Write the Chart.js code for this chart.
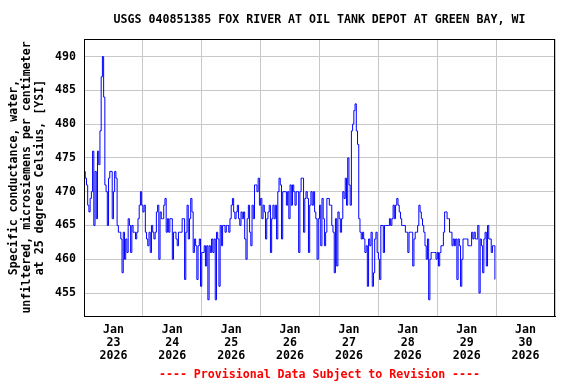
<!DOCTYPE html>
<html><head><meta charset="utf-8">
<script src="https://cdn.jsdelivr.net/npm/chart.js@4/dist/chart.umd.min.js"></script>
<style>html,body{margin:0;padding:0;background:#fff}</style>
</head><body>
<canvas id="c" width="576" height="384"></canvas>
<script>
const titleText = 'USGS 040851385 FOX RIVER AT OIL TANK DEPOT AT GREEN BAY, WI';
const yAxisTitle = ['Specific conductance, water,', 'unfiltered, microsiemens per centimeter', 'at 25 degrees Celsius, [YSI]'];
const footerText = '---- Provisional Data Subject to Revision ----';
const tickMonths = ['Jan','Jan','Jan','Jan','Jan','Jan','Jan','Jan'];
const tickDays = ['23','24','25','26','27','28','29','30'];
const tickYear = '2026';
const yTickValues = [455,460,465,470,475,480,485,490];
const yMin = 451.6, yMax = 492.6;
const sampleStepHours = 0.5;   // readings every 30 minutes from Jan 23 00:00

const jan23 = [473,472,471,468,467,469,470,476,465,473,466,476,474,479,487,490,484,471,470,465,472,473,473,466,
               470,473,472,465,464,464,463,458,464,460,463,461,466,465,461,465,464,464,463,464,466,468,470,468];
const jan24 = [467,468,464,463,462,464,461,465,464,463,464,467,468,460,467,466,466,468,469,464,466,464,466,466,
               460,464,464,463,462,464,464,464,466,466,457,464,468,463,466,469,467,461,463,462,457,462,463,456];
const jan25 = [461,461,462,459,462,454,462,461,463,461,463,454,464,463,456,465,462,465,465,464,465,465,464,466,
               468,469,467,466,467,468,466,465,467,466,467,463,460,466,468,464,462,468,466,471,471,470,472,468];
const jan26 = [469,466,468,467,463,466,467,468,461,466,468,466,468,463,470,472,471,463,470,470,470,468,470,466,
               471,468,471,470,468,470,470,461,470,472,472,464,469,470,469,461,468,470,468,470,467,466,460,466];
const jan27 = [468,462,469,466,462,464,469,469,468,468,465,464,458,466,459,467,466,464,466,470,469,472,468,475,
               471,468,479,480,482,483,479,477,466,464,463,464,463,461,462,456,463,462,464,456,458,463,464,461];
const jan28 = [460,457,465,465,461,465,465,465,465,466,465,466,468,466,468,469,468,467,466,465,465,465,464,464,
               461,464,464,464,459,463,464,464,465,468,467,466,465,464,462,460,463,454,460,461,461,461,461,460];
const jan29 = [461,459,461,462,462,464,467,467,466,466,464,464,462,463,462,463,457,463,462,456,460,463,463,463,
               463,462,462,462,464,463,464,463,463,465,455,463,462,458,463,464,459,465,463,463,461,462,462,457];

const conductance = [].concat(jan23, jan24, jan25, jan26, jan27, jan28, jan29);
const points = conductance.map((v, i) => ({x: i * sampleStepHours, y: v}));

const monoFont = {family: '"DejaVu Sans Mono", "Liberation Mono", monospace', size: 11.6, weight: 'bold', lineHeight: '13px'};

const frame = {
  id: 'frame',
  afterDatasetsDraw(chart) {
    const {ctx, chartArea: a} = chart;
    ctx.save();
    ctx.strokeStyle = '#000';
    ctx.lineWidth = 1;
    ctx.strokeRect(Math.round(a.left) + 0.5, Math.round(a.top) + 0.5,
                   Math.round(a.right - a.left) - 1, Math.round(a.bottom - a.top));
    ctx.restore();
  }
};

new Chart(document.getElementById('c'), {
  type: 'line',
  data: {datasets: [{
    data: points, borderColor: '#0000ff', borderWidth: 1, pointRadius: 0,
    stepped: true, fill: false, tension: 0
  }]},
  plugins: [frame],
  options: {
    responsive: false, animation: false, devicePixelRatio: 1,
    layout: {padding: {left: 0, right: 21, top: 0, bottom: 0}},
    plugins: {
      legend: {display: false},
      tooltip: {enabled: false},
      title: {display: true, text: titleText, fullSize: false, color: '#000', font: monoFont, padding: {top: 13, bottom: 13}},
      subtitle: {display: true, text: footerText, position: 'bottom', fullSize: false, color: '#ff0000', font: monoFont, padding: {top: 4, bottom: 3}}
    },
    scales: {
      x: {
        type: 'linear', min: 0, max: tickDays.length * 24,
        afterBuildTicks(s) {
          const t = [];
          for (let i = 0; i <= tickDays.length; i++) {
            t.push({value: i * 24});
            if (i < tickDays.length) t.push({value: i * 24 + 12});
          }
          s.ticks = t;
        },
        afterFit(s) { s.height = 48; },
        grid: {
          color: c => (c.tick && c.tick.value % 24 === 0) ? '#c8c8c8' : 'rgba(0,0,0,0)',
          lineWidth: 1, drawTicks: false
        },
        border: {display: true, color: '#000', width: 1},
        ticks: {
          autoSkip: false, maxRotation: 0, minRotation: 0, padding: 7, color: '#000', font: monoFont,
          callback: v => {
            if (v % 24 !== 12) return '';
            const i = (v - 12) / 24;
            return [tickMonths[i], tickDays[i], tickYear];
          }
        }
      },
      y: {
        type: 'linear', min: yMin, max: yMax,
        afterBuildTicks(s) { s.ticks = yTickValues.map(v => ({value: v})); },
        afterFit(s) { s.width = 84; },
        grid: {color: '#c8c8c8', lineWidth: 1, drawTicks: false},
        border: {display: true, color: '#000', width: 1},
        ticks: {padding: 8, color: '#000', font: monoFont},
        title: {display: true, text: yAxisTitle, color: '#000', font: monoFont, padding: {top: 7, bottom: 0}}
      }
    }
  }
});
</script>
</body></html>
